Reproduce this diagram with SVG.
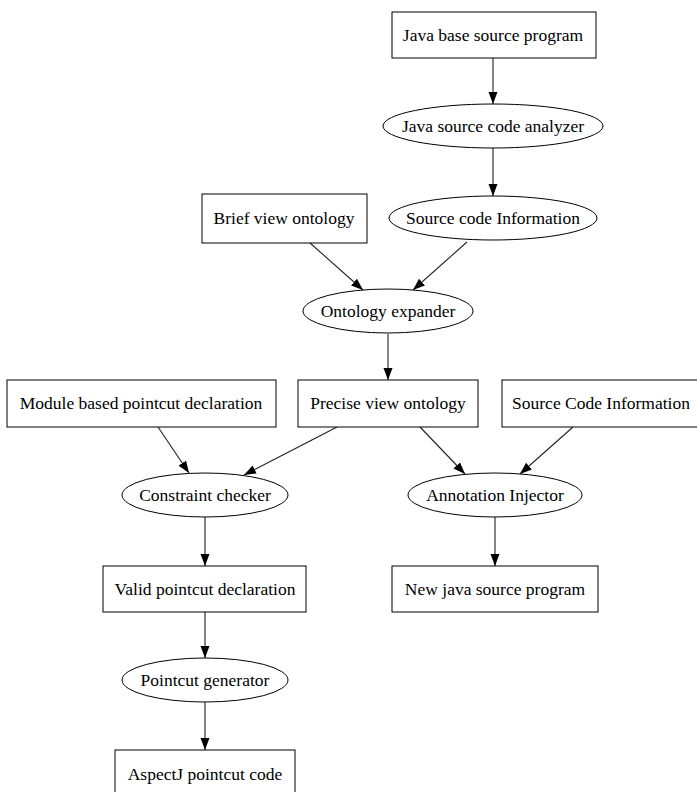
<svg xmlns="http://www.w3.org/2000/svg" width="697" height="792" viewBox="0 0 697 792">
<defs>
<marker id="ah" viewBox="0 0 12 10" refX="12" refY="5" markerWidth="12" markerHeight="10" markerUnits="userSpaceOnUse" orient="auto">
<path d="M0,0.5 L12,5 L0,9.5 Z" fill="#000"/>
</marker>
<style>
.n{fill:#fff;stroke:#000;stroke-width:1}
.t{font-family:"Liberation Serif","Times New Roman",serif;font-size:17.5px;fill:#000;text-anchor:middle;dominant-baseline:central}
.e{stroke:#222;stroke-width:1.1;fill:none;marker-end:url(#ah)}
</style>
</defs>
<rect width="697" height="792" fill="#fff"/>
<g id="connectors">
<line class="e" x1="493" y1="58" x2="493" y2="104"/>
<line class="e" x1="493" y1="148" x2="493" y2="196"/>
<line class="e" x1="310" y1="243" x2="363" y2="290"/>
<line class="e" x1="467" y1="242" x2="413" y2="290"/>
<line class="e" x1="388" y1="334" x2="388" y2="380"/>
<line class="e" x1="158" y1="427" x2="189" y2="473"/>
<line class="e" x1="337" y1="427" x2="244" y2="475"/>
<line class="e" x1="420" y1="427" x2="465" y2="474"/>
<line class="e" x1="573" y1="427" x2="520" y2="474"/>
<line class="e" x1="205" y1="516" x2="205" y2="566"/>
<line class="e" x1="495" y1="516" x2="495" y2="566"/>
<line class="e" x1="205" y1="612" x2="205" y2="658"/>
<line class="e" x1="205" y1="702" x2="205" y2="750"/>
</g>
<g id="java_base"><rect class="n" x="392" y="12" width="204" height="46"/><text class="t" x="493" y="35">Java base source program</text></g>
<g id="analyzer"><ellipse class="n" cx="493" cy="126" rx="110" ry="22"/><text class="t" x="493" y="126">Java source code analyzer</text></g>
<g id="src_info"><ellipse class="n" cx="493" cy="218" rx="104" ry="22"/><text class="t" x="493" y="218">Source code Information</text></g>
<g id="brief"><rect class="n" x="202" y="194" width="165" height="49"/><text class="t" x="284" y="218">Brief view ontology</text></g>
<g id="expander"><ellipse class="n" cx="388" cy="311" rx="85" ry="22"/><text class="t" x="388" y="311">Ontology expander</text></g>
<g id="module"><rect class="n" x="7" y="380" width="269" height="47"/><text class="t" x="141" y="403">Module based pointcut declaration</text></g>
<g id="precise"><rect class="n" x="298" y="380" width="180" height="47"/><text class="t" x="388" y="403">Precise view ontology</text></g>
<g id="src_code_info"><rect class="n" x="502" y="380" width="198" height="47"/><text class="t" x="601" y="403">Source Code Information</text></g>
<g id="checker"><ellipse class="n" cx="205" cy="495" rx="83" ry="22"/><text class="t" x="205" y="495">Constraint checker</text></g>
<g id="injector"><ellipse class="n" cx="495" cy="495" rx="87" ry="22"/><text class="t" x="495" y="495">Annotation Injector</text></g>
<g id="valid"><rect class="n" x="103" y="566" width="203" height="46"/><text class="t" x="205" y="589">Valid pointcut declaration</text></g>
<g id="new_java"><rect class="n" x="392" y="566" width="206" height="46"/><text class="t" x="495" y="589">New java source program</text></g>
<g id="generator"><ellipse class="n" cx="205" cy="680" rx="83" ry="22"/><text class="t" x="205" y="680">Pointcut generator</text></g>
<g id="aspectj"><rect class="n" x="115" y="750" width="180" height="48"/><text class="t" x="205" y="774">AspectJ pointcut code</text></g>
</svg>
